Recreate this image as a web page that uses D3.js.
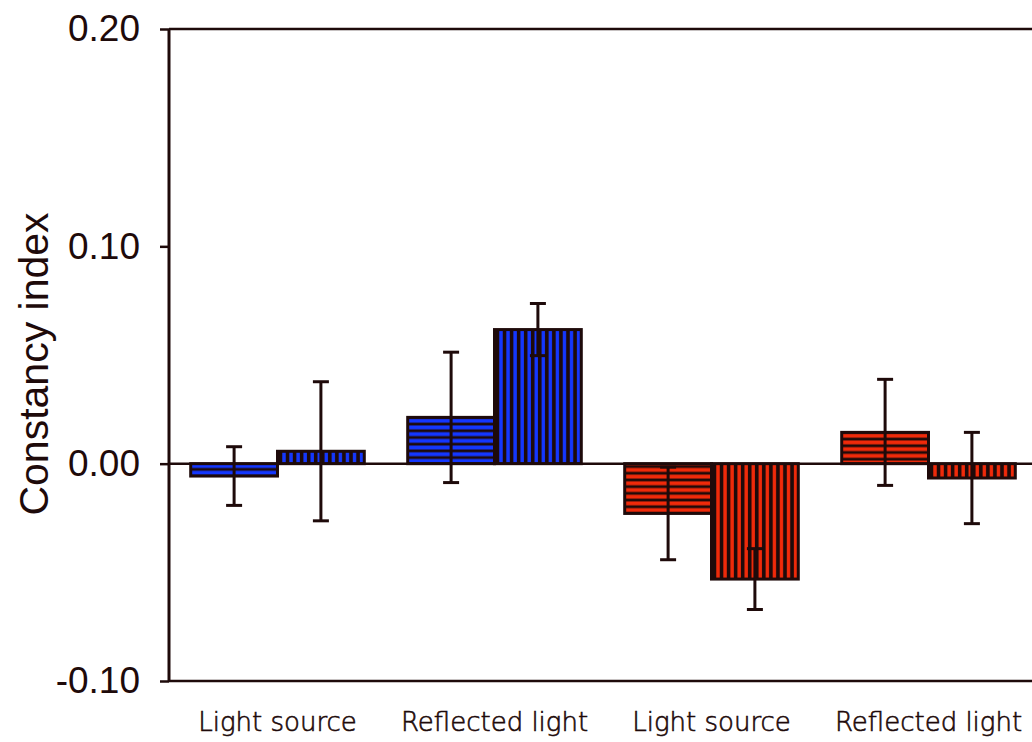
<!DOCTYPE html>
<html>
<head>
<meta charset="utf-8">
<script src="https://cdn.jsdelivr.net/npm/d3@7"></script>
<style>
  html, body { margin: 0; padding: 0; background: #ffffff; }
  svg { display: block; }
</style>
</head>
<body>
<svg id="chart" width="1032" height="742"></svg>
<script>
// Condition labels along the x axis
const categories = ["Light source", "Reflected light", "Light source", "Reflected light"];
// Two bars per condition: first (horizontal stripes), second (vertical stripes)
const firstValues  = [-0.0057, 0.0213, -0.0229, 0.0144];
const firstErrors  = [0.0135, 0.0300, 0.0213, 0.0244];
const secondValues = [0.0057, 0.0617, -0.0531, -0.0066];
const secondErrors = [0.0320, 0.0120, 0.0140, 0.0210];
// Colour of each condition
const groupColors = ["#1437ff", "#1437ff", "#f02a0a", "#f02a0a"];
// Y axis ticks
const yTicks = [-0.10, 0.00, 0.10, 0.20];
const yTickLabels = ["-0.10", "0.00", "0.10", "0.20"];

const ink = "#1e0a0a";
const svg = d3.select("#chart");

const plotLeft = 169, plotRight = 1037, plotTop = 29, plotBottom = 681;

const y = d3.scaleLinear().domain([-0.10, 0.20]).range([plotBottom, plotTop]);
const x = d3.scaleBand().domain(d3.range(categories.length))
  .range([plotLeft, plotRight]).paddingInner(0.2).paddingOuter(0.1);
const xSub = d3.scaleBand().domain([0, 1]).range([0, x.bandwidth()]);

// Flatten into one record per bar
const bars = [];
categories.forEach((c, i) => {
  bars.push({ g: i, k: 0, v: firstValues[i], e: firstErrors[i], color: groupColors[i] });
  bars.push({ g: i, k: 1, v: secondValues[i], e: secondErrors[i], color: groupColors[i] });
});
bars.forEach((d, i) => {
  d.id = "pat" + i;
  d.x0 = x(d.g) + xSub(d.k);
  d.w = xSub.bandwidth();
  d.y0 = Math.min(y(d.v), y(0));
  d.h = Math.abs(y(d.v) - y(0));
});

// Stripe patterns anchored at each bar's corner
const defs = svg.append("defs");
bars.forEach(d => {
  if (d.k === 0) {
    const p = defs.append("pattern").attr("id", d.id)
      .attr("patternUnits", "userSpaceOnUse")
      .attr("x", d.x0).attr("y", d.v >= 0 ? d.y0 : d.y0 + d.h)
      .attr("width", 10).attr("height", 6.7);
    p.append("rect").attr("width", 10).attr("height", 6.7).attr("fill", ink);
    p.append("rect").attr("x", 0).attr("y", 1.4).attr("width", 10).attr("height", 3.9).attr("fill", d.color);
  } else {
    const p = defs.append("pattern").attr("id", d.id)
      .attr("patternUnits", "userSpaceOnUse")
      .attr("x", d.x0 + 3).attr("y", 0)
      .attr("width", 7.05).attr("height", 10);
    p.append("rect").attr("width", 7.05).attr("height", 10).attr("fill", ink);
    p.append("rect").attr("x", 1.8).attr("y", 0).attr("width", 3.4).attr("height", 10).attr("fill", d.color);
  }
});

// Frame: top and bottom lines, left axis
svg.append("line").attr("x1", plotLeft).attr("x2", 1032).attr("y1", plotTop).attr("y2", plotTop)
  .attr("stroke", ink).attr("stroke-width", 2.5);
svg.append("line").attr("x1", plotLeft).attr("x2", 1032).attr("y1", plotBottom).attr("y2", plotBottom)
  .attr("stroke", ink).attr("stroke-width", 2.5);

// Bars
svg.append("g").selectAll("rect").data(bars).join("rect")
  .attr("x", d => d.x0).attr("y", d => d.y0)
  .attr("width", d => d.w).attr("height", d => d.h)
  .attr("fill", d => `url(#${d.id})`)
  .attr("stroke", ink).attr("stroke-width", 3);

// Zero line
svg.append("line").attr("x1", plotLeft).attr("x2", 1032).attr("y1", y(0)).attr("y2", y(0))
  .attr("stroke", ink).attr("stroke-width", 2.5);

// Error bars
const eg = svg.append("g").attr("stroke", ink).attr("stroke-width", 3);
bars.forEach(d => {
  const cx = d.x0 + d.w / 2;
  eg.append("line").attr("x1", cx).attr("x2", cx).attr("y1", y(d.v + d.e)).attr("y2", y(d.v - d.e));
  [d.v + d.e, d.v - d.e].forEach(val => {
    eg.append("line").attr("x1", cx - 8).attr("x2", cx + 8).attr("y1", y(val)).attr("y2", y(val));
  });
});

// Y axis
const yAxis = d3.axisLeft(y).tickValues(yTicks)
  .tickFormat((d, i) => yTickLabels[i]).tickSize(9).tickPadding(20);
const ya = svg.append("g").attr("transform", `translate(${plotLeft},0)`).call(yAxis);
ya.select(".domain").attr("stroke", ink).attr("stroke-width", 3)
  .attr("d", `M0,${plotTop}V${plotBottom}`);
ya.selectAll(".tick line").attr("stroke", ink).attr("stroke-width", 2.5);
ya.selectAll(".tick text").attr("fill", ink)
  .style("font-family", "'Liberation Sans', Arial, sans-serif").style("font-size", "37px");

// Y axis title
svg.append("text")
  .attr("transform", `translate(48,${(210 + 518) / 2}) rotate(-90)`)
  .attr("text-anchor", "middle")
  .attr("fill", ink)
  .style("font-family", "'Liberation Sans', Arial, sans-serif").style("font-size", "41px")
  .text("Constancy index");

// Category labels
svg.append("g").selectAll("text").data(categories).join("text")
  .attr("x", (d, i) => x(i) + x.bandwidth() / 2)
  .attr("y", 731)
  .attr("text-anchor", "middle")
  .attr("fill", ink)
  .attr("stroke", ink).attr("stroke-width", 0.6)
  .style("font-family", "'DejaVu Sans', sans-serif").style("font-size", "26px").style("font-weight", 200)
  .text(d => d);
</script>
</body>
</html>
